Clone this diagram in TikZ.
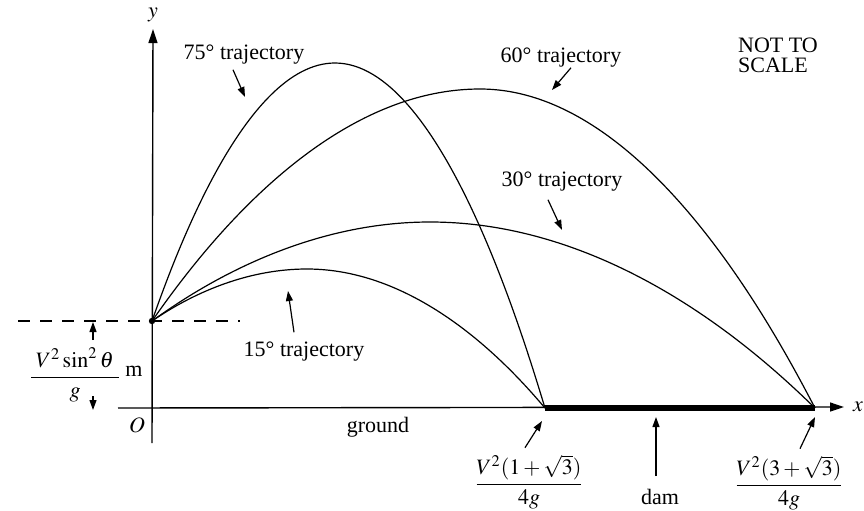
\documentclass[tikz,border=0pt]{standalone}
\usepackage{amsmath,amssymb}
\usepackage{mathptmx}
\usepackage{fontspec}
\setmainfont{Liberation Serif}
\usepackage{tikz}
\usetikzlibrary{positioning,calc,arrows.meta}
\usepackage{xcolor}

\begin{document}
\begin{tikzpicture}[x=0.5pt,y=-0.5pt,
    every node/.style={font=\fontsize{11}{13}\selectfont},
    traj/.style={line width=0.6pt},
    axe/.style={line width=0.7pt,-{Triangle[length=7pt,width=4.5pt]}},
    fleche/.style={line width=0.6pt,-{Triangle[length=5pt,width=3.5pt]}}
    ]
\useasboundingbox (0,0) rectangle (864,510);
% Points remarquables
\coordinate (O) at (152,408);
\coordinate (L) at (152,321);
\coordinate (A) at (545,408);
\coordinate (B) at (815,408);

% Axes, sol et barrage
\node (y) at (153,15) {$y$};
\node (x) at (858,407) {$x$};
\draw[axe] (152,443) -- (y.south);
\draw[axe] (118,408) -- ([xshift=-1pt]x.west);
\draw[line width=3pt] (A) -- (B);
\draw[dashed,dash pattern=on 6pt off 5pt,line width=0.6pt] (18,321) -- (240,321);
\fill (L) circle (1.6pt);

% Trajectoires
\draw[traj] (L) parabola bend (335,63) (A);
\draw[traj] (L) parabola bend (480,89) (B);
\draw[traj] (L) parabola bend (430,222) (B);
\draw[traj] (L) parabola bend (307,269) (A);

% Textes
\node (t75) at (244,55) {75° trajectory};
\node (t60) at (561,58) {60° trajectory};
\node (t30) at (562,182) {30° trajectory};
\node (t15) at (304,352) {15° trajectory};
\node[align=left] (nts) at (778,55) {NOT TO\\[-3pt]SCALE};
\node (sol) at (378,427) {ground};
\node (O') at (137,425) {$O$};
\node (h) at (75,375) {$\dfrac{\;V^{2}\sin^{2}\theta\;}{g}$};
\node (m) at (134,371) {m};
\node (fA) at (529,482) {$\dfrac{V^{2}(1+\sqrt{3})}{4g}$};
\node (fB) at (789,483) {$\dfrac{V^{2}(3+\sqrt{3})}{4g}$};
\node (dam) at (660,497) {dam};

% Fleches
\draw[fleche] ($(t75.south)+(-11,-2)$) -- (245,97);
\draw[fleche] ($(t60.south)+(10,-7)$) -- (552,90);
\draw[fleche] ($(t30.south)+(-14,1)$) -- (562,230);
\draw[fleche] ($(t15.north)+(-10,-3)$) -- (288,291);
\draw[fleche] (93,340) -- (93,322);
\draw[fleche] (93,396) -- (93,410);
\draw[fleche] ($(fA.north)+(-4,0)$) -- ($(A)+(-3,13)$);
\draw[fleche] ($(fB.north)+(11,0)$) -- ($(B)+(0,9)$);
\draw[fleche] ($(dam.north)+(-4,-6)$) -- ($(dam.north |- B)+(-4,9)$);
\end{tikzpicture}
\end{document}
